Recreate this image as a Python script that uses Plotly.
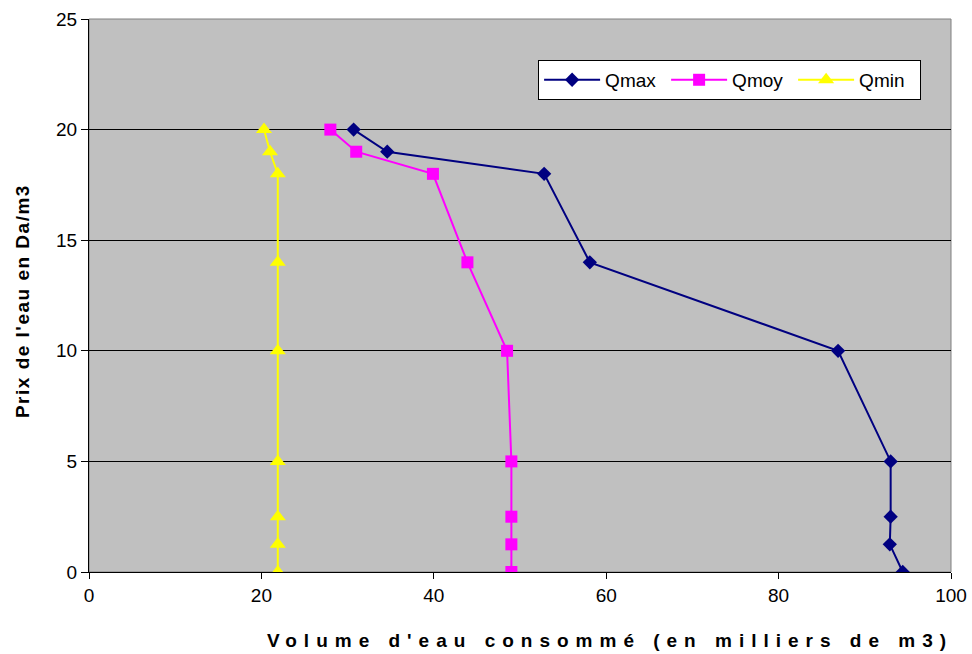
import plotly.graph_objects as go

prix = [20, 19, 18, 14, 10, 5, 2.5, 1.25, 0]
qmax = [30.7, 34.6, 52.8, 58.1, 86.9, 93.0, 93.0, 92.9, 94.4]
qmoy = [28.0, 31.0, 39.9, 43.9, 48.5, 49.0, 49.0, 49.0, 49.0]
qmin = [20.3, 21.0, 21.9, 21.9, 21.9, 21.9, 21.9, 21.9, 21.9]

x_title = "Volume d'eau consommé (en milliers de m3)"
y_title = "Prix de l'eau en Da/m3"

fig = go.Figure()
fig.add_trace(go.Scatter(x=qmax, y=prix, name="Qmax", mode="lines+markers",
                         line=dict(color="#000080", width=2),
                         marker=dict(symbol="diamond", size=11, color="#000080")))
fig.add_trace(go.Scatter(x=qmoy, y=prix, name="Qmoy", mode="lines+markers",
                         line=dict(color="#FF00FF", width=2),
                         marker=dict(symbol="square", size=12, color="#FF00FF")))
fig.add_trace(go.Scatter(x=qmin, y=prix, name="Qmin", mode="lines+markers",
                         line=dict(color="#FFFF00", width=2),
                         marker=dict(symbol="triangle-up", size=14, color="#FFFF00")))

fig.update_layout(
    width=972, height=654,
    margin=dict(l=89, r=21, t=19, b=82, autoexpand=False),
    paper_bgcolor="white", plot_bgcolor="#C0C0C0",
    font=dict(family="Liberation Sans, Arial", size=19, color="black"),
    showlegend=True,
    legend=dict(orientation="h", x=0.521, y=0.926, xanchor="left", yanchor="top",
                bgcolor="white", bordercolor="black", borderwidth=1,
                font=dict(size=19), itemwidth=56, entrywidth=56, entrywidthmode="pixels",
                tracegroupgap=0),
    xaxis=dict(range=[0, 100], dtick=20, showgrid=False, zeroline=False,
               showline=True, linecolor="black", linewidth=1,
               ticks="outside", ticklen=6, tickcolor="black", automargin=False),
    yaxis=dict(range=[0, 25], dtick=5, showgrid=True, gridcolor="black", gridwidth=1,
               zeroline=False, showline=True, linecolor="black", linewidth=1,
               ticks="outside", ticklen=7, tickcolor="black", automargin=False),
    annotations=[
        dict(text="<span style='letter-spacing:7px'><b>" + x_title + "</b></span>",
             xref="paper", yref="paper", x=0.604, y=-0.123, xanchor="center",
             yanchor="middle", showarrow=False, font=dict(size=19)),
        dict(text="<span style='letter-spacing:1.5px'><b>" + y_title + "</b></span>",
             xref="paper", yref="paper", x=-0.0777, y=0.49, xanchor="center",
             yanchor="middle", textangle=-90, showarrow=False, font=dict(size=19)),
    ],
)
fig.add_shape(type="rect", xref="paper", yref="paper", x0=0, y0=0, x1=1, y1=1,
              line=dict(color="#808080", width=1), layer="below")

fig.write_html("out.html", config={"displayModeBar": False},
               post_script="document.body.style.margin='0';document.body.style.overflow='hidden';")
